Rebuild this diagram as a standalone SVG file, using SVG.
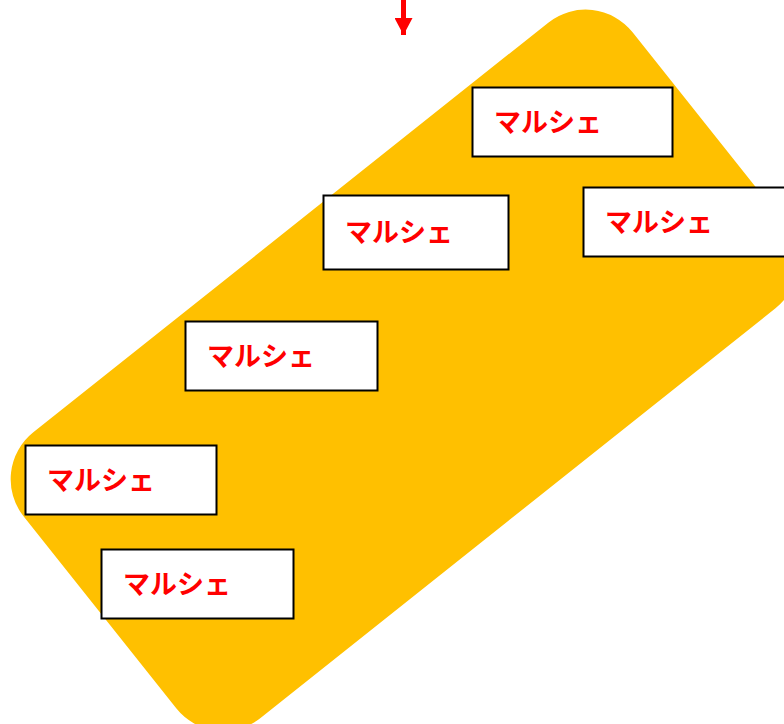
<svg xmlns="http://www.w3.org/2000/svg" width="784" height="724" viewBox="0 0 784 724">
<style>
.box{fill:#fff;stroke:#000;stroke-width:2}
.lbl{fill:#FF0000;font-family:"Noto Sans CJK JP","Noto Sans",sans-serif;font-size:27px;font-weight:bold}
</style>
<defs>
<marker id="ah" markerUnits="userSpaceOnUse" markerWidth="19" markerHeight="18" refX="17" refY="9" orient="auto">
<path d="M0,0 L17,9 L0,18 Z" fill="#FF0000"/>
</marker>
</defs>
<rect width="784" height="724" fill="#fff"/>
<g id="group-bg">
<rect x="-389" y="-182.5" width="778" height="365" rx="60" fill="#FFC000" transform="translate(404.4,370.3) rotate(-38.5)"/>
</g>
<g id="connectors">
<line x1="403.5" y1="0" x2="403.5" y2="35" stroke="#FF0000" stroke-width="5" marker-end="url(#ah)"/>
</g>
<g id="n1"><rect class="box" x="472.5" y="87.5" width="200" height="69"/><text class="lbl" x="494" y="131.5">マルシェ</text></g>
<g id="n2"><rect class="box" x="323.5" y="195.5" width="185" height="74"/><text class="lbl" x="345" y="242">マルシェ</text></g>
<g id="n3"><rect class="box" x="583.5" y="187.5" width="210" height="69"/><text class="lbl" x="605" y="231.5">マルシェ</text></g>
<g id="n4"><rect class="box" x="185.5" y="321.5" width="192" height="69"/><text class="lbl" x="207" y="365.5">マルシェ</text></g>
<g id="n5"><rect class="box" x="25.5" y="445.5" width="191" height="69"/><text class="lbl" x="47" y="489.5">マルシェ</text></g>
<g id="n6"><rect class="box" x="101.5" y="549.5" width="192" height="69"/><text class="lbl" x="123" y="593.5">マルシェ</text></g>
</svg>
